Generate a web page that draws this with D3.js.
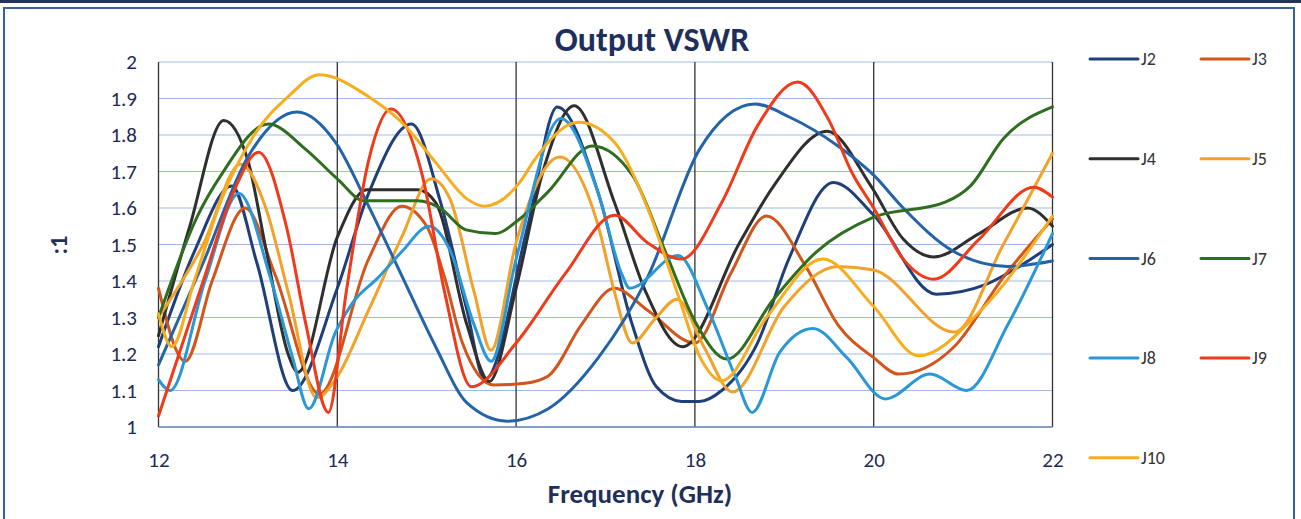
<!DOCTYPE html>
<html>
<head>
<meta charset="utf-8">
<script src="https://cdn.jsdelivr.net/npm/d3@7"></script>
<style>
  html, body { margin: 0; padding: 0; background: #fff; }
  svg { display: block; }
  text { font-family: Carlito, Lato, "Open Sans", sans-serif; }
</style>
</head>
<body>
<svg id="chart" width="1301" height="519"></svg>
<script>
// ---- data ----
const seriesNames = ["J2", "J3", "J4", "J5", "J6", "J7", "J8", "J9", "J10"];

const j2Freq = [12, 12.4, 12.82, 13.1, 13.5, 14.0, 14.35, 14.83, 15.15, 15.45, 15.65, 16.13, 16.46, 16.92, 17.3, 17.57, 17.85, 18.05, 18.3, 18.7, 19.05, 19.55, 20.0, 20.7, 21.25, 21.63, 22];
const j2Vswr = [1.22, 1.48, 1.66, 1.45, 1.10, 1.38, 1.64, 1.83, 1.62, 1.32, 1.13, 1.55, 1.877, 1.64, 1.28, 1.11, 1.07, 1.07, 1.10, 1.23, 1.46, 1.67, 1.58, 1.364, 1.39, 1.44, 1.50];

const j3Freq = [12, 12.3, 12.6, 12.97, 13.3, 13.8, 14.35, 14.72, 15.0, 15.2, 15.4, 15.75, 16.1, 16.36, 16.73, 17.1, 17.47, 18.0, 18.4, 18.8, 19.24, 19.6, 20.0, 20.28, 20.9, 21.45, 22];
const j3Vswr = [1.38, 1.18, 1.40, 1.60, 1.42, 1.09, 1.46, 1.605, 1.55, 1.41, 1.23, 1.115, 1.12, 1.14, 1.28, 1.38, 1.32, 1.23, 1.42, 1.578, 1.44, 1.28, 1.19, 1.145, 1.22, 1.41, 1.57];

const j4Freq = [12, 12.35, 12.73, 13.0, 13.2, 13.45, 13.56, 14.0, 14.33, 14.9, 15.1, 15.45, 15.7, 16.0, 16.3, 16.65, 17.1, 17.45, 17.86, 18.5, 18.88, 19.48, 19.97, 20.33, 20.67, 21.18, 21.72, 22];
const j4Vswr = [1.25, 1.55, 1.84, 1.73, 1.49, 1.20, 1.15, 1.52, 1.65, 1.65, 1.615, 1.28, 1.125, 1.38, 1.70, 1.88, 1.615, 1.37, 1.22, 1.505, 1.66, 1.81, 1.66, 1.515, 1.466, 1.53, 1.60, 1.55];

const j5Freq = [12, 12.5, 12.92, 13.2, 13.45, 13.77, 13.98, 14.35, 14.72, 15.05, 15.26, 15.53, 15.72, 16.0, 16.49, 16.92, 17.1, 17.3, 17.55, 17.8, 18.1, 18.42, 19.0, 19.6, 20.0, 20.9, 21.45, 22];
const j5Vswr = [1.30, 1.50, 1.72, 1.60, 1.37, 1.08, 1.13, 1.32, 1.52, 1.68, 1.625, 1.37, 1.21, 1.505, 1.74, 1.55, 1.37, 1.23, 1.295, 1.35, 1.22, 1.096, 1.33, 1.44, 1.43, 1.26, 1.50, 1.75];

const j6Freq = [12, 12.5, 13.0, 13.55, 13.98, 14.35, 14.73, 15.1, 15.45, 15.9, 16.36, 16.92, 17.47, 18.05, 18.67, 19.05, 19.6, 20.0, 20.33, 20.9, 21.5, 22];
const j6Vswr = [1.17, 1.45, 1.74, 1.863, 1.78, 1.605, 1.41, 1.22, 1.066, 1.016, 1.05, 1.19, 1.41, 1.76, 1.885, 1.85, 1.77, 1.69, 1.60, 1.48, 1.44, 1.455];

const j7Freq = [12, 12.44, 12.7, 13.23, 13.65, 14.0, 14.3, 14.9, 15.15, 15.44, 15.76, 16.04, 16.36, 16.85, 17.3, 17.67, 18.0, 18.36, 18.88, 19.36, 20.0, 20.8, 21.08, 21.45, 22];
const j7Vswr = [1.30, 1.58, 1.69, 1.83, 1.76, 1.68, 1.62, 1.62, 1.60, 1.54, 1.53, 1.57, 1.645, 1.77, 1.69, 1.48, 1.29, 1.186, 1.35, 1.48, 1.575, 1.616, 1.66, 1.79, 1.877];

const j8Freq = [12, 12.13, 12.52, 12.9, 13.25, 13.5, 13.68, 13.98, 14.17, 14.46, 14.72, 15.03, 15.26, 15.53, 15.72, 16.0, 16.5, 16.92, 17.18, 17.27, 17.81, 18.15, 18.45, 18.64, 18.95, 19.32, 19.7, 20.13, 20.63, 21.04, 21.5, 22];
const j8Vswr = [1.13, 1.10, 1.40, 1.64, 1.41, 1.19, 1.05, 1.26, 1.34, 1.41, 1.48, 1.55, 1.485, 1.28, 1.18, 1.46, 1.845, 1.64, 1.42, 1.38, 1.47, 1.32, 1.14, 1.04, 1.205, 1.27, 1.19, 1.077, 1.145, 1.10, 1.28, 1.53];

const j9Freq = [12, 12.5, 12.85, 13.12, 13.43, 13.65, 13.9, 14.1, 14.35, 14.6, 14.95, 15.2, 15.5, 16.0, 16.55, 17.1, 17.47, 17.85, 18.3, 18.7, 19.15, 19.5, 19.75, 20.0, 20.33, 20.67, 21.18, 21.79, 22];
const j9Vswr = [1.03, 1.40, 1.65, 1.753, 1.55, 1.28, 1.04, 1.37, 1.73, 1.871, 1.69, 1.37, 1.11, 1.23, 1.42, 1.58, 1.505, 1.46, 1.615, 1.825, 1.945, 1.84, 1.70, 1.60, 1.46, 1.405, 1.515, 1.657, 1.63];

const j10Freq = [12, 12.15, 12.4, 12.7, 13.07, 13.45, 13.8, 14.35, 14.72, 15.1, 15.45, 15.64, 16.04, 16.2, 16.7, 17.1, 17.47, 17.8, 18.05, 18.3, 18.8, 19.43, 20.0, 20.5, 21.2, 22];
const j10Vswr = [1.31, 1.22, 1.40, 1.62, 1.80, 1.905, 1.965, 1.905, 1.835, 1.725, 1.625, 1.605, 1.67, 1.73, 1.835, 1.78, 1.60, 1.37, 1.195, 1.127, 1.30, 1.46, 1.33, 1.195, 1.32, 1.578];

const xTicks = [12, 14, 16, 18, 20, 22];
const yTicks = [1, 1.1, 1.2, 1.3, 1.4, 1.5, 1.6, 1.7, 1.8, 1.9, 2];
const yTickLabels = ["1", "1.1", "1.2", "1.3", "1.4", "1.5", "1.6", "1.7", "1.8", "1.9", "2"];

// ---- styles ----
const seriesColors = ["#1f3f7a", "#d2551c", "#2f2f2f", "#f2a229", "#2463a8", "#2f6e1f", "#2a97d6", "#f03a1a", "#f7ad1e"];

const seriesData = [
  [j2Freq, j2Vswr], [j3Freq, j3Vswr], [j4Freq, j4Vswr], [j5Freq, j5Vswr], [j6Freq, j6Vswr],
  [j7Freq, j7Vswr], [j8Freq, j8Vswr], [j9Freq, j9Vswr], [j10Freq, j10Vswr]
].map(([f, v], i) => ({ name: seriesNames[i], color: seriesColors[i], pts: f.map((x, k) => ({ x, y: v[k] })) }));

const svg = d3.select("#chart");
const W = 1301, H = 519;

// frame
svg.append("rect").attr("x", 0).attr("y", 0).attr("width", W).attr("height", 3).attr("fill", "#22345a");
svg.append("rect").attr("x", 4).attr("y", 8).attr("width", 1290).attr("height", 530)
  .attr("fill", "#fff").attr("stroke", "#3a5f9e").attr("stroke-width", 2);

const x = d3.scaleLinear().domain([12, 22]).range([158.5, 1052.5]);
const y = d3.scaleLinear().domain([1, 2]).range([427, 62]);

// horizontal gridlines
svg.append("g").selectAll("line").data(yTicks.slice(1)).join("line")
  .attr("x1", x(12)).attr("x2", x(22))
  .attr("y1", d => y(d)).attr("y2", d => y(d))
  .attr("stroke", "#9dbbe3").attr("stroke-width", 1.2);

// vertical gridlines
svg.append("g").selectAll("line").data(xTicks).join("line")
  .attr("x1", d => x(d)).attr("x2", d => x(d))
  .attr("y1", y(2)).attr("y2", y(1))
  .attr("stroke", "#333").attr("stroke-width", 1.3);

// bottom axis line
svg.append("line").attr("x1", x(12)).attr("x2", x(22)).attr("y1", y(1)).attr("y2", y(1))
  .attr("stroke", "#5a7fb5").attr("stroke-width", 1.5);

// axes labels using d3 axes
const xAxis = d3.axisBottom(x).tickValues(xTicks).tickSize(0).tickPadding(0).tickFormat(d3.format("d"));
const gx = svg.append("g").attr("transform", `translate(0,${y(1) + 25})`).call(xAxis);
gx.select(".domain").remove();
gx.selectAll("text").attr("font-size", 21).attr("fill", "#1d2b55").attr("dy", "0.71em")
  .style("font-family", "Carlito, Lato, sans-serif");

const yAxis = d3.axisLeft(y).tickValues(yTicks).tickSize(0).tickPadding(0).tickFormat((d, i) => yTickLabels[i]);
const gy = svg.append("g").attr("transform", `translate(137,0)`).call(yAxis);
gy.select(".domain").remove();
gy.selectAll("text").attr("font-size", 21).attr("fill", "#1d2b55")
  .style("font-family", "Carlito, Lato, sans-serif");

// series lines
const line = d3.line().x(d => x(d.x)).y(d => y(d.y)).curve(d3.curveMonotoneX);
svg.append("g").selectAll("path").data(seriesData).join("path")
  .attr("d", d => line(d.pts))
  .attr("fill", "none")
  .attr("stroke", d => d.color)
  .attr("stroke-width", 3)
  .attr("stroke-linejoin", "round")
  .attr("stroke-linecap", "round");

// title
svg.append("text").attr("x", 652).attr("y", 51).attr("text-anchor", "middle")
  .attr("font-size", 34).attr("font-weight", "bold").attr("fill", "#1f2f5c").text("Output VSWR");

// axis titles
svg.append("text").attr("x", 640).attr("y", 503).attr("text-anchor", "middle")
  .attr("font-size", 27).attr("font-weight", "bold").attr("fill", "#1f2f5c").text("Frequency (GHz)");
svg.append("text").attr("transform", "translate(67,245) rotate(-90)").attr("text-anchor", "middle")
  .attr("font-size", 24).attr("font-weight", "bold").attr("fill", "#1f2f5c").text(":1");

// legend
const lg = svg.append("g").selectAll("g").data(seriesData).join("g")
  .attr("transform", (d, i) => `translate(${i % 2 === 0 ? 1090 : 1201},${59 + Math.floor(i / 2) * 99.7})`);
lg.append("line").attr("x1", 0).attr("x2", 48).attr("y1", 0).attr("y2", 0)
  .attr("stroke", d => d.color).attr("stroke-width", 3).attr("stroke-linecap", "round");
lg.append("text").attr("x", 51).attr("y", 0).attr("dy", "0.35em")
  .attr("font-size", 18).attr("fill", "#333").text(d => d.name);
</script>
</body>
</html>
